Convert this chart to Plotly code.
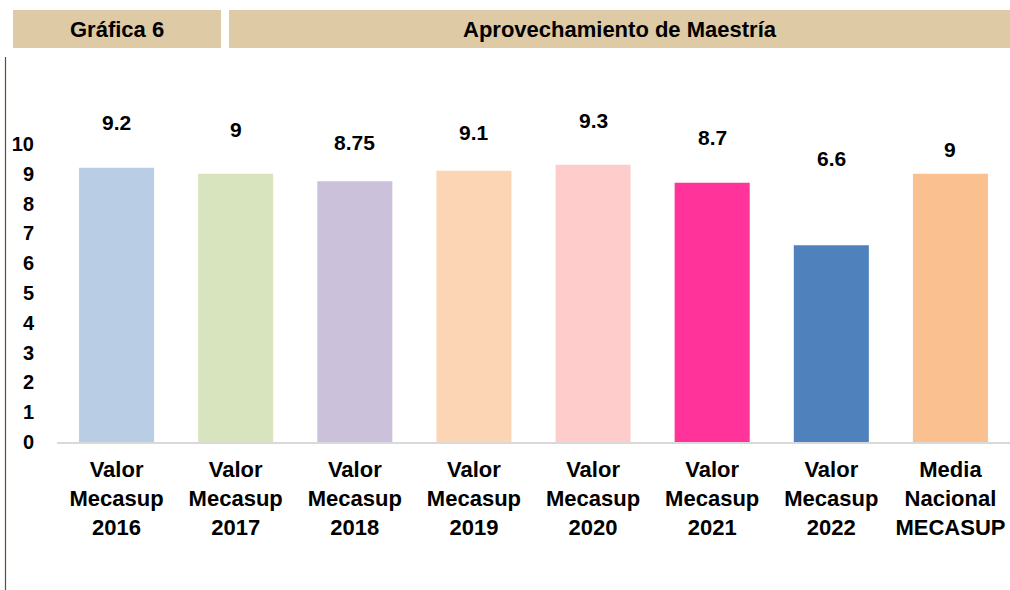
import plotly.graph_objects as go

categories = ["Valor<br>Mecasup<br>2016", "Valor<br>Mecasup<br>2017", "Valor<br>Mecasup<br>2018",
              "Valor<br>Mecasup<br>2019", "Valor<br>Mecasup<br>2020", "Valor<br>Mecasup<br>2021",
              "Valor<br>Mecasup<br>2022", "Media<br>Nacional<br>MECASUP"]
values = [9.2, 9, 8.75, 9.1, 9.3, 8.7, 6.6, 9]
value_labels = ["9.2", "9", "8.75", "9.1", "9.3", "8.7", "6.6", "9"]
tick_vals = list(range(0, 11))
tick_text = [str(v) for v in tick_vals]
colors = ["#B9CDE5", "#D7E4BD", "#CCC1DA", "#FCD5B5", "#FFCCCC", "#FF3399", "#4F81BD", "#FAC090"]
label_shift = [45, 44, 39, 38, 44, 45, 87, 24]

W, H = 1010, 590
ML, MR, MT, MB = 57, 0, 70, 148
PX_PER_UNIT = 29.8
plot_h = H - MT - MB
ymax = plot_h / PX_PER_UNIT
plot_w = W - ML - MR

def px(x):
    return (x - ML) / plot_w

def py(y):
    return (H - MB - y) / plot_h

fig = go.Figure()
fig.add_trace(go.Bar(x=categories, y=values, marker=dict(color=colors, line=dict(width=0)),
                     width=0.63, hoverinfo="x+y"))

font = "Liberation Sans, Arial, sans-serif"
annotations = []
for c, v, t, s in zip(categories, values, value_labels, label_shift):
    annotations.append(dict(x=c, y=v, text=t, showarrow=False, yshift=s,
                            yanchor="middle", font=dict(family=font, size=21, color="black", weight="bold")))

annotations.append(dict(xref="paper", yref="paper", x=px(117), y=py(29), text="Gráfica 6",
                        showarrow=False, xanchor="center", yanchor="middle",
                        font=dict(family=font, size=22, color="black", weight="bold")))
annotations.append(dict(xref="paper", yref="paper", x=px(620), y=py(29), text="Aprovechamiento de Maestría",
                        showarrow=False, xanchor="center", yanchor="middle",
                        font=dict(family=font, size=22, color="black", weight="bold")))

shapes = [
    dict(type="rect", xref="paper", yref="paper", x0=px(13), x1=px(221), y0=py(48), y1=py(10),
         fillcolor="#DECAA4", line=dict(width=0), layer="below"),
    dict(type="rect", xref="paper", yref="paper", x0=px(229), x1=px(1010), y0=py(48), y1=py(10),
         fillcolor="#DECAA4", line=dict(width=0), layer="below"),
    dict(type="line", xref="paper", yref="paper", x0=px(5.5), x1=px(5.5), y0=py(590), y1=py(57),
         line=dict(color="#6B4A2B", width=1.2)),
]

fig.update_layout(
    width=W, height=H,
    margin=dict(l=ML, r=MR, t=MT, b=MB, pad=0),
    paper_bgcolor="white", plot_bgcolor="white",
    showlegend=False,
    annotations=annotations,
    shapes=shapes,
    bargap=0.37,
    xaxis=dict(showline=True, linecolor="#D9D9D9", linewidth=2, showgrid=False, ticks="",
               ticklabelstandoff=7,
               tickfont=dict(family=font, size=22, color="black", weight="bold"),
               fixedrange=True),
    yaxis=dict(range=[0, ymax], tickvals=tick_vals, ticktext=tick_text, showgrid=False, zeroline=False,
               showline=False, ticks="", ticklabelstandoff=22,
               tickfont=dict(family=font, size=20, color="black", weight="bold"),
               fixedrange=True),
)

fig.write_html("out.html", config={"displayModeBar": False},
               post_script="document.body.style.margin='0';document.body.style.overflow='hidden';")
